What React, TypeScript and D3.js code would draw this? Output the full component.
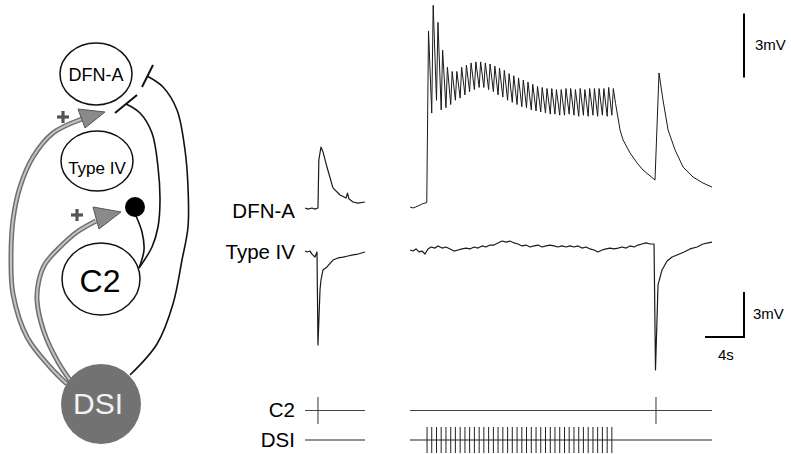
import React from 'react';
import * as d3 from 'd3';

// recording time in s, potential in mV (relative to resting level)
const dsiSpikes = [1.75, 2.23, 2.72, 3.2, 3.69, 4.18, 4.66, 5.15, 5.64, 6.12, 6.61, 7.1, 7.58, 8.07, 8.56, 9.04, 9.53, 10.02, 10.5, 10.99,
  11.48, 11.96, 12.45, 12.94, 13.42, 13.91, 14.4, 14.88, 15.37, 15.86, 16.34, 16.83, 17.32, 17.8, 18.29, 18.78, 19.26, 19.75, 20.24, 20.72];
const c2SpikesLeft = [1.34];
const c2SpikesRight = [25.25];

// DFN-A EPSP peak and following trough for each DSI spike
const dfnPeaks = [8.3, 9.5, 8.7, 7.4, 6.6, 6.4, 6.4, 6.6, 6.7, 6.8, 6.85, 6.85, 6.8, 6.75, 6.65, 6.55, 6.45, 6.3, 6.2, 6.1,
  6.0, 5.9, 5.8, 5.7, 5.65, 5.6, 5.6, 5.55, 5.55, 5.6, 5.6, 5.55, 5.6, 5.55, 5.6, 5.6, 5.6, 5.6, 5.65, 5.6];
const dfnTroughs = [4.45, 5.05, 4.6, 4.7, 4.85, 5.05, 5.15, 5.3, 5.45, 5.55, 5.65, 5.65, 5.55, 5.45, 5.3, 5.2, 5.05, 4.95, 4.85, 4.75,
  4.7, 4.6, 4.55, 4.5, 4.45, 4.4, 4.4, 4.35, 4.35, 4.4, 4.35, 4.3, 4.35, 4.3, 4.35, 4.3, 4.35, 4.3, 4.35, 4.3];
const dfnHead: [number, number][] = [[0, 0.05], [0.3, 0], [0.6, 0.05], [1.03, 0.14], [1.3, 0.2], [1.54, 0.23], [1.72, 0.25]];
const dfnTail: [number, number][] = [[21.1, 4.9], [21.56, 3.66], [21.87, 3.19], [22.59, 2.58], [23.31, 2.11], [23.92, 1.78], [25.15, 1.31],
  [25.56, 6.33], [25.97, 5.06], [26.49, 3.66], [27.21, 2.72], [28.03, 1.92], [29.06, 1.45], [30.08, 1.17], [31, 0.98]];
const dfnLeft: [number, number][] = [[0, 0], [0.31, -0.05], [0.72, 0], [1.03, -0.05], [1.34, 0], [1.43, 2.25], [1.65, 2.86], [1.86, 2.63],
  [2.27, 1.92], [2.89, 0.94], [3.62, 0.61], [4.24, 0.47], [4.39, 0.7], [4.55, 0.42], [4.96, 0.28], [5.48, 0.23], [6.2, 0.28]];

const typeIVLeft: [number, number][] = [[0, -0.07], [0.21, -0.13], [0.52, -0.07], [0.72, -0.27], [1.03, -0.47], [1.24, -0.13], [1.34, -6.33],
  [1.55, -2.67], [1.65, -2.0], [1.86, -1.33], [2.27, -1.13], [2.89, -0.67], [3.41, -0.53], [3.93, -0.47], [4.44, -0.4], [4.96, -0.33],
  [5.48, -0.27], [6.2, -0.13]];
const typeIVRight: [number, number][] = [[0, 0], [0.31, -0.07], [0.62, 0.07], [0.92, -0.13], [1.23, -0.07], [1.54, -0.27], [1.85, 0.07],
  [2.16, 0.2], [2.57, 0.13], [2.87, 0.27], [3.29, 0.13], [3.7, 0.2], [4.11, 0.07], [4.52, -0.07], [4.93, 0], [5.34, 0.07], [5.75, 0.13],
  [6.16, 0.07], [6.57, 0.2], [6.98, 0.13], [7.39, 0.27], [7.8, 0.2], [8.21, 0.33], [8.62, 0.33], [9.03, 0.47], [9.45, 0.6], [9.86, 0.53],
  [10.27, 0.6], [10.68, 0.47], [11.09, 0.4], [11.5, 0.27], [11.91, 0.33], [12.32, 0.2], [12.73, 0.27], [13.14, 0.33], [13.55, 0.2],
  [13.96, 0.27], [14.37, 0.33], [14.78, 0.27], [15.2, 0.2], [15.61, 0.27], [16.02, 0.2], [16.43, 0.27], [16.84, 0.2], [17.25, 0.27],
  [17.66, 0.13], [18.07, 0.2], [18.48, 0.07], [18.89, 0], [19.3, -0.13], [19.71, 0], [20.12, 0.07], [20.53, 0.13], [20.94, 0.07],
  [21.36, 0.13], [21.77, 0.2], [22.18, 0.13], [22.59, 0.27], [23.0, 0.2], [23.41, 0.33], [23.82, 0.4], [24.23, 0.47], [24.64, 0.4],
  [25.05, 0.4], [25.2, -8.0], [25.46, -2.33], [25.87, -1.33], [26.39, -0.73], [26.9, -0.47], [27.41, -0.33], [28.13, -0.13],
  [28.75, 0.07], [29.47, 0.2], [30.08, 0.4], [30.6, 0.47], [31, 0.53]];

const traceLabels = ['DFN-A', 'Type IV', 'C2', 'DSI'];

const W = 792, H = 454;
const font = '"Liberation Sans", Arial, sans-serif';

const xL = d3.scaleLinear().domain([0, 6.2]).range([305, 365]);
const xR = d3.scaleLinear().domain([0, 31]).range([410, 712]);
const yDfn = d3.scaleLinear().domain([0, 3]).range([208, 144]);
const yT4 = d3.scaleLinear().domain([0, 3]).range([250, 205]);
const yC2 = d3.scaleLinear().domain([-1, 1]).range([424, 397]);
const yDsi = d3.scaleLinear().domain([-1, 1]).range([453, 427]);

const lineL = (y: d3.ScaleLinear<number, number>) => d3.line<[number, number]>().x(d => xL(d[0])).y(d => y(d[1]));
const lineR = (y: d3.ScaleLinear<number, number>) => d3.line<[number, number]>().x(d => xR(d[0])).y(d => y(d[1]));

// build the DFN-A train response from the per-spike values
const dfnRight: [number, number][] = [...dfnHead];
dsiSpikes.forEach((t, i) => {
  if (i > 0) dfnRight.push([t, dfnTroughs[i - 1]]);
  dfnRight.push([t + 0.15, dfnPeaks[i]]);
});
dfnTail.forEach(p => dfnRight.push(p));

// schematic circuit
const smooth = d3.line<[number, number]>().curve(d3.curveCatmullRom);
const greyOuter: [number, number][] = [[67, 384], [50, 367], [27, 337], [13, 294], [11, 260], [13, 220], [20, 187], [33, 157], [53, 133], [82, 119]];
const greyInner: [number, number][] = [[72, 383], [58, 362], [44, 332], [37, 300], [39, 280], [45, 264], [60, 247], [77, 232], [96, 221]];
const fromBar1: [number, number][] = [[126, 104], [140, 113], [152, 133], [158, 167], [160, 200], [158, 227], [152, 247], [139, 268]];
const fromDot: [number, number][] = [[136, 216], [142, 232], [144, 250], [139, 268]];
const fromBar2: [number, number][] = [[147, 76], [163, 87], [177, 110], [185, 150], [188, 187], [188, 227], [182, 260], [173, 304], [157, 344], [130, 375]];

const Plus = ({ x, y }: { x: number; y: number }) => (
  <g stroke="#555" strokeWidth={3.2}>
    <line x1={x - 6} y1={y} x2={x + 6} y2={y} />
    <line x1={x} y1={y - 6} x2={x} y2={y + 6} />
  </g>
);

const Diagram = () => (
  <g fontFamily={font}>
    {[greyOuter, greyInner].map((pts, i) => (
      <g key={i}>
        <path d={smooth(pts)!} fill="none" stroke="#6f6f6f" strokeWidth={5} />
        <path d={smooth(pts)!} fill="none" stroke="#c4c4c4" strokeWidth={2} />
      </g>
    ))}
    <path d="M78,109 L105,112 L85,128 Z" fill="#8a8a8a" stroke="#555" strokeWidth={1} />
    <path d="M93,207 L121,212 L99,229 Z" fill="#8a8a8a" stroke="#555" strokeWidth={1} />
    <Plus x={63} y={117} />
    <Plus x={77} y={215} />
    <g fill="none" stroke="#111" strokeWidth={1.6}>
      <path d={smooth(fromBar1)!} />
      <path d={smooth(fromDot)!} />
      <path d={smooth(fromBar2)!} />
      <line x1={115} y1={113} x2={137} y2={95} strokeWidth={2} />
      <line x1={142} y1={87} x2={153} y2={65} strokeWidth={2} />
    </g>
    <ellipse cx={96} cy={74} rx={36} ry={31} fill="#fff" stroke="#111" strokeWidth={1.5} />
    <ellipse cx={97} cy={161} rx={36} ry={30} fill="#fff" stroke="#111" strokeWidth={1.5} />
    <ellipse cx={101} cy={279} rx={39} ry={36} fill="#fff" stroke="#111" strokeWidth={1.5} />
    <circle cx={135} cy={207} r={10} fill="#000" />
    <circle cx={101} cy={404} r={40} fill="#727272" />
    <text x={96} y={81} textAnchor="middle" fontSize={18}>DFN-A</text>
    <text x={97} y={174} textAnchor="middle" fontSize={17}>Type IV</text>
    <text x={100} y={292} textAnchor="middle" fontSize={32}>C2</text>
    <text x={98} y={414} textAnchor="middle" fontSize={30} fill="#f2f2f2">DSI</text>
  </g>
);

const App = () => {
  const labelY = [218, 259, 417, 447];
  const tr = { fill: 'none', stroke: '#1a1a1a', strokeWidth: 1.2, strokeLinejoin: 'round' as const };
  return (
    <svg width={W} height={H} style={{ position: 'absolute', left: 0, top: 0, background: '#fff' }}>
      <Diagram />
      {traceLabels.map((l, i) => (
        <text key={l} x={295} y={labelY[i]} textAnchor="end" fontFamily={font} fontSize={20.5}>{l}</text>
      ))}
      <path d={lineL(yDfn)(dfnLeft)!} {...tr} />
      <path d={lineR(yDfn)(dfnRight)!} {...tr} strokeWidth={1} />
      <path d={lineL(yT4)(typeIVLeft)!} {...tr} />
      <path d={lineR(yT4)(typeIVRight)!} {...tr} />
      {/* C2 */}
      <g stroke="#444" strokeWidth={1.1}>
        <line x1={xL(0)} x2={xL(6.2)} y1={yC2(0)} y2={yC2(0)} />
        <line x1={xR(0)} x2={xR(31)} y1={yC2(0)} y2={yC2(0)} />
        {c2SpikesLeft.map(t => <line key={'l' + t} x1={xL(t)} x2={xL(t)} y1={yC2(-1)} y2={yC2(1)} />)}
        {c2SpikesRight.map(t => <line key={'r' + t} x1={xR(t)} x2={xR(t)} y1={yC2(-1)} y2={yC2(1)} />)}
      </g>
      {/* DSI */}
      <g stroke="#222" strokeWidth={1.1}>
        <line x1={xL(0)} x2={xL(6.2)} y1={yDsi(0)} y2={yDsi(0)} />
        <line x1={xR(0)} x2={xR(31)} y1={yDsi(0)} y2={yDsi(0)} />
        {dsiSpikes.map(t => <line key={t} x1={xR(t)} x2={xR(t)} y1={yDsi(-1)} y2={yDsi(1)} strokeWidth={1} />)}
      </g>
      {/* scale bars */}
      <g stroke="#000" strokeWidth={2} fill="none">
        <line x1={744} x2={744} y1={13.5} y2={13.5 + yDfn(0) - yDfn(3)} />
        <path d={`M744,${337 - (yT4(0) - yT4(3))} V337 H${744 - (xR(4) - xR(0))}`} />
      </g>
      <g fontFamily={font} fontSize={15}>
        <text x={755} y={50}>3mV</text>
        <text x={753} y={319}>3mV</text>
        <text x={718} y={360}>4s</text>
      </g>
    </svg>
  );
};

export default App;
